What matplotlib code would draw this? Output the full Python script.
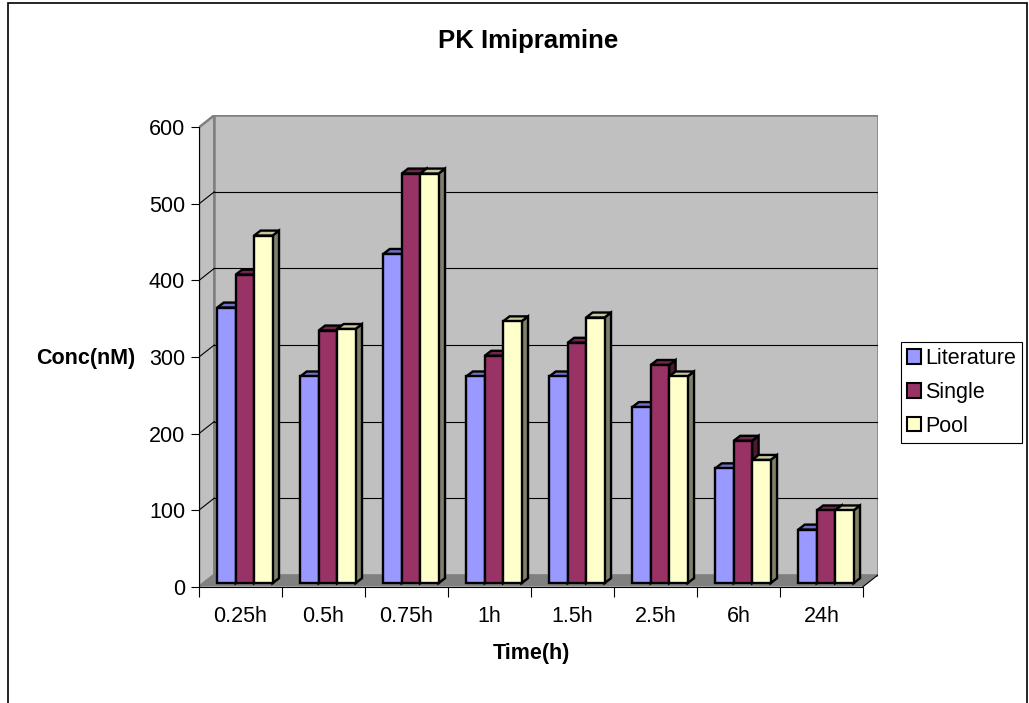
import matplotlib
matplotlib.use("Agg")
import matplotlib.pyplot as plt
from matplotlib.patches import Polygon, Patch, Rectangle
import numpy as np

plt.rcParams['font.family'] = ['Liberation Sans', 'DejaVu Sans']

# data
times = ["0.25h", "0.5h", "0.75h", "1h", "1.5h", "2.5h", "6h", "24h"]
literature = [360, 270, 430, 270, 270, 230, 150, 70]
single = [403, 330, 535, 297, 314, 285, 186, 95]
pool = [454, 332, 535, 342, 347, 270, 161, 95]
series_names = ["Literature", "Single", "Pool"]

front_cols = ["#9999FF", "#993366", "#FFFFCC"]
top_cols = ["#7070C8", "#70254B", "#C8C89E"]
side_cols = ["#4D4D80", "#4D1A33", "#80806A"]

W, H = 1029, 703
fig = plt.figure(figsize=(W / 100, H / 100), dpi=100)

# 3d-ish offsets (category units / value units)
wx, wy = 0.184, 15.7      # wall depth
bx, by = 0.078, 6.5       # bar depth
fx, fy = (wx - bx) / 2, (wy - by) / 2
ymax = 600
n = len(times)

left_px, right_px = 199, 878.3
bot_px, top_px = 586.7, 115.3
ax = fig.add_axes([left_px / W, (H - bot_px) / H,
                   (right_px - left_px) / W, (bot_px - top_px) / H])
ax.set_xlim(-0.5, n - 0.5 + wx)
ax.set_ylim(0, ymax + wy)
ax.patch.set_visible(False)

x0 = -0.5
x1 = n - 0.5
# walls and floor
ax.add_patch(Polygon([(x0, 0), (x0, ymax), (x0 + wx, ymax + wy), (x0 + wx, wy)],
                     closed=True, facecolor="#C0C0C0", edgecolor="#808080", lw=1.8, zorder=0.5))
ax.add_patch(Rectangle((x0 + wx, wy), x1 - x0, ymax, facecolor="#C0C0C0",
                       edgecolor="#808080", lw=1.8, zorder=0.5))
ax.add_patch(Polygon([(x0, 0), (x1, 0), (x1 + wx, wy), (x0 + wx, wy)],
                     closed=True, facecolor="#808080", edgecolor="none", zorder=0.7))
ax.plot([x1, x1 + wx], [0, wy], color="black", lw=0.8, zorder=0.8)

for v in range(100, ymax, 100):
    ax.plot([x0, x0 + wx], [v, v + wy], color="black", lw=0.8, zorder=0.6)
    ax.plot([x0 + wx, x1 + wx], [v + wy, v + wy], color="black", lw=0.8, zorder=0.6)

# bars
w = 0.222
x = np.arange(n)
for j, vals in enumerate([literature, single, pool]):
    bars = ax.bar(x + fx + (j - 1) * w, vals, width=w, bottom=fy,
                  color=front_cols[j], edgecolor="black", lw=1.7, zorder=3 + j)
    for b in bars:
        xl = b.get_x()
        xr = xl + b.get_width()
        yb = b.get_y()
        yt = yb + b.get_height()
        ax.add_patch(Polygon([(xr, yb), (xr, yt), (xr + bx, yt + by), (xr + bx, yb + by)],
                             closed=True, facecolor=side_cols[j], edgecolor="black",
                             lw=1.7, zorder=2.9 + j))
        ax.add_patch(Polygon([(xl, yt), (xl + bx, yt + by), (xr + bx, yt + by), (xr, yt)],
                             closed=True, facecolor=top_cols[j], edgecolor="black",
                             lw=1.7, zorder=2.9 + j))

# axes
for s in ["top", "right"]:
    ax.spines[s].set_visible(False)
ax.spines["left"].set_bounds(0, ymax)
ax.spines["bottom"].set_bounds(x0, x1)
ax.spines["left"].set_zorder(2)
ax.spines["bottom"].set_zorder(2)
ax.set_yticks(range(0, ymax + 1, 100))
ax.tick_params(axis="y", length=6, width=0.8, pad=4, labelsize=15.5)
ax.set_xticks(np.arange(x0, x1 + 0.1, 1.0))
ax.set_xticklabels([])
ax.tick_params(axis="x", which="major", length=7, width=0.8)
ax.set_xticks(x, minor=True)
ax.set_xticklabels(times, minor=True)
ax.tick_params(axis="x", which="minor", length=0, pad=14, labelsize=15.5)

fig.text(528.5 / W, 1 - 48 / H, "PK Imipramine", ha="center", va="baseline",
         fontsize=18.5, fontweight="bold")
fig.text(531 / W, 1 - 659 / H, "Time(h)", ha="center", va="baseline",
         fontsize=15.5, fontweight="bold")
fig.text(135 / W, 1 - 364 / H, "Conc(nM)", ha="right", va="baseline",
         fontsize=15.5, fontweight="bold")

handles = [Patch(facecolor=c, edgecolor="black", lw=1.5) for c in front_cols]
leg = fig.legend(handles, series_names, loc="upper left",
                 bbox_to_anchor=(901 / W, 1 - 342 / H), borderaxespad=0,
                 fontsize=15.5, frameon=True, fancybox=False, framealpha=1,
                 edgecolor="black", handlelength=0.65, handleheight=0.65,
                 handletextpad=0.2, labelspacing=0.6, borderpad=0.28)
leg.get_frame().set_linewidth(0.8)

# chart area border
fig.add_artist(Rectangle((7.5 / W, -0.05), (1027 - 7.5) / W, 1.05 - 3 / H,
                         transform=fig.transFigure, fill=False,
                         edgecolor="black", lw=1.2))

fig.savefig("out.png", dpi=100)
